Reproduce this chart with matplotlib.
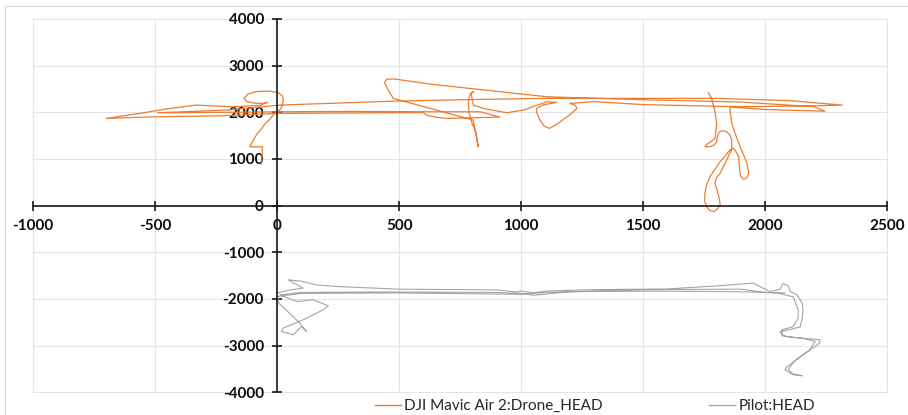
import matplotlib
matplotlib.use("Agg")
import matplotlib.pyplot as plt
from matplotlib.lines import Line2D
from matplotlib.patches import Rectangle

# ---- data ----
drone_x = [-64, -62, -60, -85, -112, -100, -85, -65, -50, -30, -15, 5, 15, 22, 25, 22, 5, -30, -85,
           -120, -135, -125, -90, -60, -40, -70, -180, -331, -450, -563, -700, -494, -221, 0, 300,
           599, 612, 650, 695, 790, 913, 831, 627, 300, 11, -200, -490, -200, 11, 480, 831, 1105,
           1447, 1800, 2100, 2315, 2150, 1900, 1500, 1300, 1199, 1222, 1228, 1200, 1150, 1117,
           1095, 1075, 1063, 1063, 1090, 1146, 1105, 1009, 941, 845, 804, 795, 805, 790, 783, 787,
           800, 815, 824, 812, 804, 777, 654, 476, 455, 440, 449, 480, 627, 1105, 1500, 1900,
           2200, 2245, 2000, 1855, 1858, 1863, 1880, 1897, 1912, 1925, 1932, 1925, 1911, 1898,
           1895, 1891, 1880, 1870, 1855, 1835, 1815, 1795, 1774, 1760, 1753, 1752, 1760, 1772,
           1788, 1805, 1815, 1813, 1808, 1794, 1800, 1815, 1835, 1855, 1862, 1863, 1862, 1855,
           1843, 1829, 1815, 1808, 1803, 1801, 1790, 1774, 1753, 1758, 1767, 1785, 1794, 1798,
           1801, 1797, 1791, 1785, 1781, 1767]
drone_y = [890, 1100, 1263, 1260, 1263, 1380, 1513, 1640, 1750, 1850, 1950, 2020, 2080, 2170, 2262,
           2350, 2420, 2455, 2445, 2390, 2300, 2230, 2195, 2190, 2215, 2150, 2119, 2155, 2075,
           1977, 1870, 1905, 1926, 1977, 1985, 1995, 1941, 1895, 1870, 1880, 1900, 2012, 2012,
           2020, 2012, 2000, 1990, 2050, 2155, 2240, 2277, 2300, 2298, 2300, 2250, 2155, 2135,
           2120, 2165, 2230, 2191, 2150, 2084, 1950, 1760, 1656, 1700, 1850, 2012, 2084, 2160,
           2212, 2226, 2048, 1991, 2084, 2155, 2405, 2450, 2380, 2226, 1977, 1750, 1550, 1263,
           1600, 1834, 1870, 2048, 2298, 2480, 2640, 2710, 2715, 2605, 2333, 2270, 2220, 2120,
           2024, 2060, 2115, 1950, 1763, 1500, 1263, 1080, 907, 700, 600, 565, 640, 764, 1049,
           1160, 1228, 1192, 1060, 942, 790, 621, 450, 265, 90, -21, -100, -128, -70, 15, 120,
           229, 479, 600, 693, 900, 1121, 1200, 1299, 1420, 1513, 1580, 1605, 1590, 1549, 1460,
           1370, 1300, 1263, 1263, 1300, 1335, 1400, 1442, 1600, 1763, 1920, 2084, 2200, 2298,
           2418]

pilot_x = [-2, 60, 107, 45, 100, 161, 244, 500, 900, 980, 1000, 1050, 1100, 1300, 1600, 1800, 1951,
           2018, 2060, 2073, 2095, 2102, 2130, 2151, 2155, 2150, 2143, 2100, 2060, 2070, 2089,
           2225, 2222, 2196, 2140, 2089, 2081, 2114, 2151, 2110, 2095, 2120, 2180, 2205, 2160,
           2070, 2068, 2114, 2134, 2135, 2114, 2050, 1900, 1500, 1200, 1050, 1000, 900, 400, 100,
           11, 80, 148, 210, 189, 107, 25, 18, 66, 100, 120, 90, 30, 7, 4, 100, 500, 1000, 1100,
           1500, 1900, 2000, 2080]
pilot_y = [-1875, -1800, -1768, -1590, -1620, -1697, -1733, -1790, -1805, -1850, -1830, -1870,
           -1830, -1800, -1785, -1720, -1661, -1840, -1797, -1669, -1720, -1840, -1911, -2083,
           -2250, -2450, -2597, -2660, -2700, -2770, -2811, -2875, -2950, -3046, -3250, -3453,
           -3517, -3624, -3646, -3600, -3500, -3330, -3100, -2910, -2850, -2790, -2661, -2597,
           -2420, -2233, -1954, -1870, -1845, -1830, -1845, -1920, -1880, -1860, -1850, -1860,
           -1911, -2054, -2018, -2147, -2232, -2446, -2624, -2696, -2767, -2589, -2696, -2500,
           -2200, -2090, -1947, -1880, -1870, -1900, -1860, -1800, -1790, -1860, -1870]

x_ticks = [-1000, -500, 0, 500, 1000, 1500, 2000, 2500]
y_ticks = [-4000, -3000, -2000, -1000, 0, 1000, 2000, 3000, 4000]
series_names = ["DJI Mavic Air 2:Drone_HEAD", "Pilot:HEAD"]
series_colors = ["#ED7D31", "#A5A5A5"]

# ---- figure ----
W, H = 908, 415
fig = plt.figure(figsize=(W / 100, H / 100), dpi=100)
fig.patch.set_facecolor("white")

# outer chart border
fig.patches.append(Rectangle((5 / W, -0.1), 1.2, 1 - 6 / H + 0.1, transform=fig.transFigure,
                             fill=False, edgecolor="#d9d9d9", linewidth=0.8))

ax = fig.add_axes([33 / W, 1 - 392.3 / H, (887.3 - 33) / W, (392.3 - 19) / H])
ax.set_xlim(x_ticks[0], x_ticks[-1])
ax.set_ylim(y_ticks[0], y_ticks[-1])
ax.set_facecolor("none")

# grid
for xv in x_ticks:
    ax.axvline(xv, color="#e2e5eb", lw=0.8, zorder=0, clip_on=False)
for yv in y_ticks:
    ax.axhline(yv, color="#e2e5eb", lw=0.8, zorder=0, clip_on=False)

ax.plot(drone_x, drone_y, color=series_colors[0], lw=0.9, zorder=3, solid_joinstyle="round")
ax.plot(pilot_x, pilot_y, color=series_colors[1], lw=0.8, zorder=3, solid_joinstyle="round")

for s in ["top", "right"]:
    ax.spines[s].set_visible(False)
ax.spines["left"].set_position(("data", 0))
ax.spines["bottom"].set_position(("data", 0))
for s in ["left", "bottom"]:
    ax.spines[s].set_linewidth(1.2)
    ax.spines[s].set_color("#1a1a1a")
    ax.spines[s].set_zorder(4)

ax.set_xticks(x_ticks)
ax.set_yticks(y_ticks)
ax.set_xticklabels([str(v) for v in x_ticks])
ax.set_yticklabels([str(v) for v in y_ticks])
ax.tick_params(axis="both", direction="inout", length=7, width=1.2, color="#1a1a1a",
               labelsize=11, pad=6)
for lab in ax.get_xticklabels() + ax.get_yticklabels():
    lab.set_fontfamily("Lato")
    lab.set_fontweight("bold")
    lab.set_color("#0d0d0d")

# legend
handles = [Line2D([], [], color=c, lw=1.0) for c in series_colors]
leg = fig.legend(handles, series_names, loc="center", bbox_to_anchor=(0.655, 1 - 406 / H),
                 ncol=2, frameon=False, prop={"family": "Lato", "size": 11},
                 handlelength=1.7, handletextpad=0.2, columnspacing=7.0)
for t in leg.get_texts():
    t.set_color("#262626")

fig.savefig("out.png", dpi=100, facecolor="white")
